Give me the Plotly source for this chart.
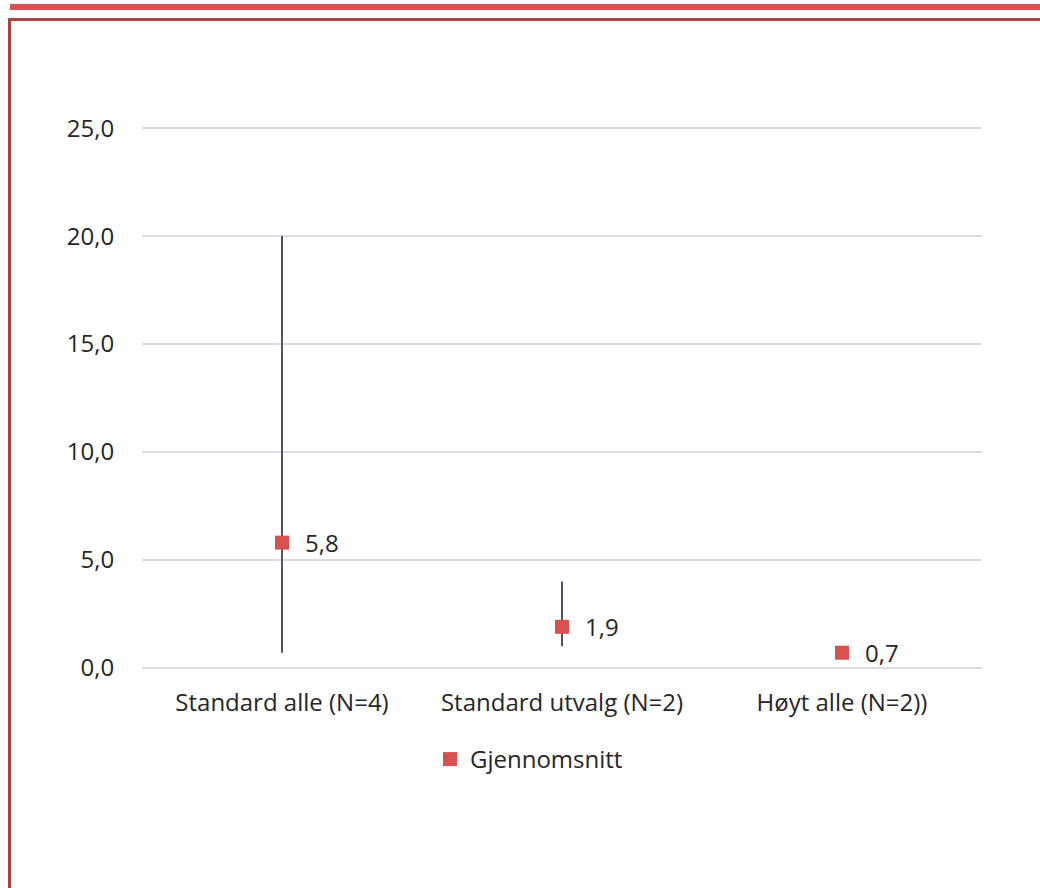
import plotly.graph_objects as go

categories = ["Standard alle (N=4)", "Standard utvalg (N=2)", "Høyt alle (N=2))"]
mean_values = [5.8, 1.9, 0.7]
min_values = [0.7, 1.0, 0.7]
max_values = [20.0, 4.0, 0.7]
y_ticks = [0, 5, 10, 15, 20, 25]
y_tick_labels = ["0,0", "5,0", "10,0", "15,0", "20,0", "25,0"]
series_name = "Gjennomsnitt"

W, H = 1040, 888
L, R, T, B = 142, 58, 126, 218
pw, ph = W - L - R, H - T - B
YPAD = 0.1

def px(x):
    return (x - L) / pw

def py(y):
    return (H - B - y) / ph

RED = "#d9504f"
DARK_RED = "#ab4343"
TEXT = "#262626"
FONT = "Open Sans"
FS = 24

err_plus = [mx - m for mx, m in zip(max_values, mean_values)]
err_minus = [m - mn for mn, m in zip(min_values, mean_values)]

fig = go.Figure()
fig.add_trace(go.Scatter(
    x=categories, y=mean_values, mode="markers", name=series_name,
    marker=dict(symbol="square", size=14, color=RED),
    error_y=dict(type="data", symmetric=False, array=err_plus, arrayminus=err_minus,
                 color="#50506a", thickness=2, width=0),
))

for c, v in zip(categories, mean_values):
    fig.add_annotation(x=c, y=v, text=f"{v:.1f}".replace(".", ","), showarrow=False,
                       xanchor="left", yanchor="middle", xshift=21,
                       font=dict(family=FONT, size=FS, color=TEXT))

shapes = [
    dict(type="rect", xref="paper", yref="paper", x0=px(10), x1=px(1045), y0=py(10), y1=py(4),
         fillcolor=RED, line=dict(width=0), layer="above"),
    dict(type="rect", xref="paper", yref="paper", x0=px(8), x1=px(1045), y0=py(21), y1=py(18),
         fillcolor=DARK_RED, line=dict(width=0), layer="above"),
    dict(type="rect", xref="paper", yref="paper", x0=px(8), x1=px(11), y0=py(895), y1=py(18),
         fillcolor=DARK_RED, line=dict(width=0), layer="above"),
]

fig.update_layout(
    width=W, height=H,
    margin=dict(l=L, r=R, t=T, b=B, pad=0),
    paper_bgcolor="white", plot_bgcolor="white",
    font=dict(family=FONT, size=FS, color=TEXT),
    shapes=shapes,
    showlegend=True,
    legend=dict(orientation="h", x=px(430), xanchor="left", y=py(737), yanchor="top",
                font=dict(family=FONT, size=FS, color=TEXT), itemwidth=30,
                bgcolor="rgba(0,0,0,0)"),
    xaxis=dict(type="category", showgrid=False, zeroline=False, showline=False,
               ticks="outside", ticklen=11, tickcolor="rgba(0,0,0,0)",
               tickfont=dict(family=FONT, size=FS, color=TEXT), range=[-0.5, 2.5]),
    yaxis=dict(range=[-YPAD, 25 + YPAD], tickvals=y_ticks, ticktext=y_tick_labels,
               showgrid=True, gridcolor="#dcdce6", gridwidth=2, zeroline=False, showline=False,
               ticks="outside", ticklen=22, tickcolor="rgba(0,0,0,0)",
               tickfont=dict(family=FONT, size=FS, color=TEXT)),
)

fig.write_html("out.html", config={"displayModeBar": False},
               post_script="document.body.style.margin='0';document.body.style.overflow='hidden';")
